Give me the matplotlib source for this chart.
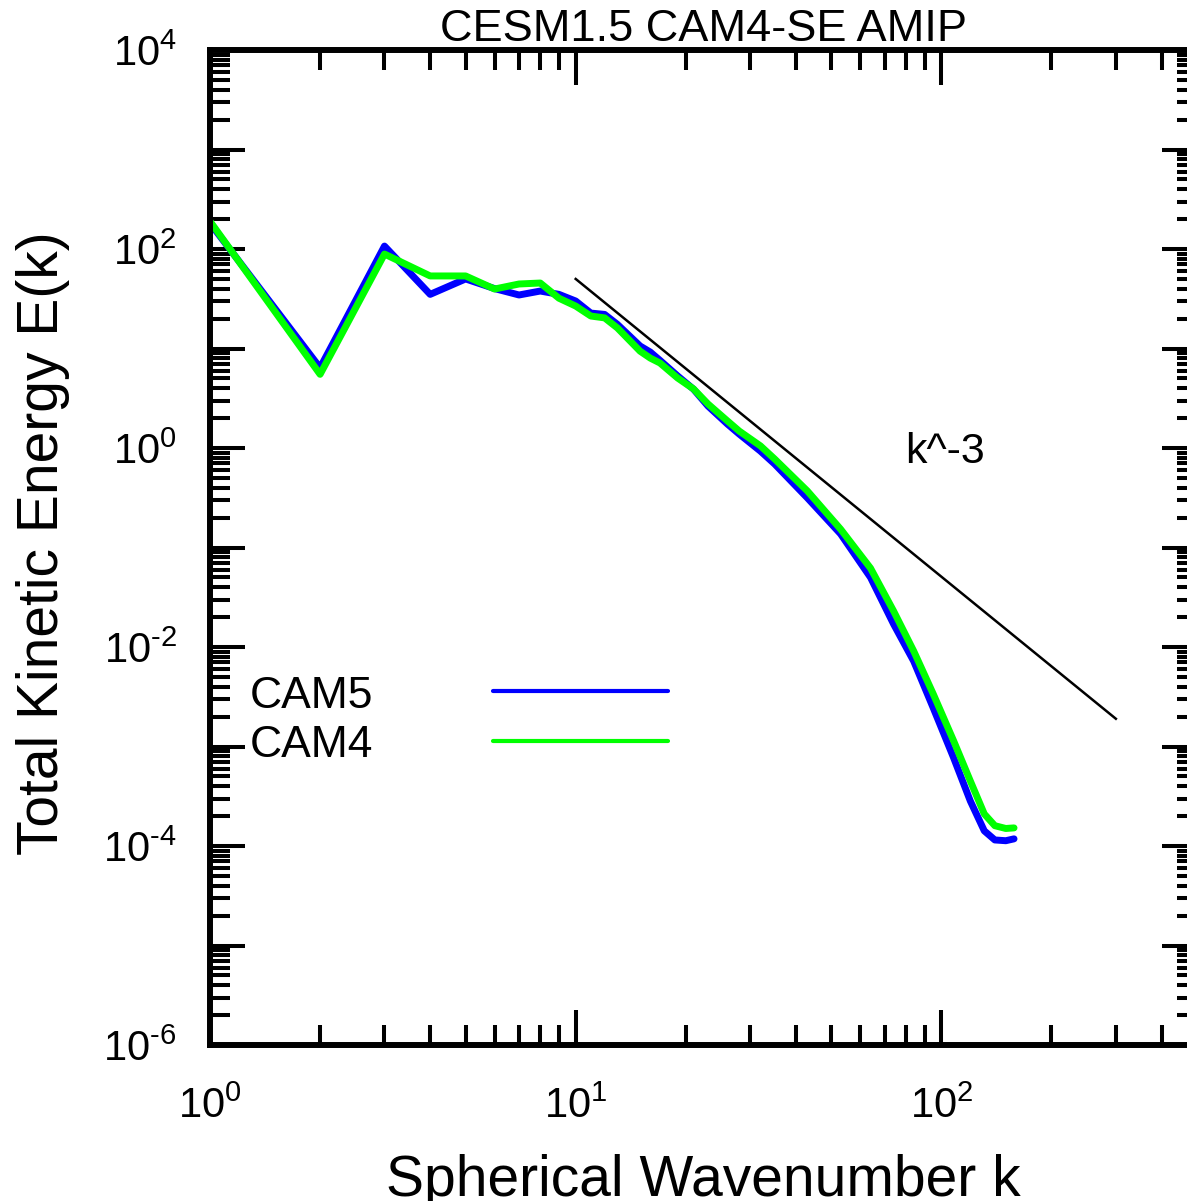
import matplotlib
matplotlib.use('Agg')
import matplotlib.pyplot as plt
import numpy as np
from matplotlib.ticker import FixedLocator, LogLocator, NullFormatter, FuncFormatter

plt.rcParams['font.family'] = ['Liberation Sans', 'DejaVu Sans']
plt.rcParams['mathtext.fontset'] = 'custom'
plt.rcParams['mathtext.rm'] = 'Liberation Sans'

# spherical wavenumber and kinetic energy
k = [1, 2, 3, 4, 5, 6, 7, 8, 9, 10, 11, 12, 13, 15, 16, 17, 19, 21, 23, 26,
     28, 32, 35, 43, 53, 64, 74, 84, 95, 108, 120, 131, 140, 150, 158]
cam5 = [182, 6.4, 107, 35, 50, 40, 34.5, 37.8, 35, 30, 22.7, 22, 17.5, 10.6,
        9.2, 7.6, 5.3, 3.9, 2.64, 1.74, 1.38, 0.93, 0.69, 0.315, 0.137, 0.05,
        0.017, 0.0072, 0.00244, 0.00077, 2.83e-4, 1.42e-4, 1.15e-4,
        1.13e-4, 1.18e-4]
cam4 = [190, 5.5, 89, 53.6, 53.6, 39.6, 44.5, 45.5, 32, 26.7, 21.2, 20.3, 16.1,
        9.4, 8.0, 7.15, 5.05, 3.92, 2.77, 1.87, 1.48, 1.05, 0.775, 0.37, 0.153,
        0.062, 0.023, 0.0091, 0.00337, 0.00114, 4.5e-4, 2.1e-4, 1.6e-4,
        1.5e-4, 1.52e-4]

# k^-3 reference line end points
ref_k = [10, 300]
ref_e = [50, 1.9e-3]

series = [('CAM5', cam5, '#0000ff'), ('CAM4', cam4, '#00ff00')]

fig = plt.figure(figsize=(11.87, 12.01), dpi=100)
ax = fig.add_axes([210 / 1187, 1 - 1045 / 1201, 987 / 1187, 995 / 1201])

for name, vals, col in series:
    ax.plot(k, vals, color=col, lw=5, solid_capstyle='round',
            solid_joinstyle='round')
ax.plot(ref_k, ref_e, color='black', lw=1.8)

ax.set_xscale('log')
ax.set_yscale('log')
ax.set_xlim(1, 500)
ax.set_ylim(1e-6, 1e4)


def pow_label(e):
    # hyphen (U+2010) instead of the long minus sign, like the original
    return '$\\mathregular{10^{%s}}$' % str(e).replace('-', '\u2010')


ax.xaxis.set_major_locator(FixedLocator([1, 10, 100]))
ax.xaxis.set_minor_locator(LogLocator(base=10, subs=np.arange(2, 10)))
ax.xaxis.set_major_formatter(FuncFormatter(
    lambda v, p: pow_label(int(round(np.log10(v))))))
ax.xaxis.set_minor_formatter(NullFormatter())

ax.yaxis.set_major_locator(FixedLocator([10.0 ** e for e in range(-6, 5)]))
ax.yaxis.set_minor_locator(LogLocator(base=10, subs=np.arange(2, 10), numticks=20))


def ylab(v, p):
    e = int(round(np.log10(v)))
    return pow_label(e) if e % 2 == 0 else ''


ax.yaxis.set_major_formatter(FuncFormatter(ylab))
ax.yaxis.set_minor_formatter(NullFormatter())

for s in ax.spines.values():
    s.set_linewidth(4.3)
ax.tick_params(which='both', direction='in', top=True, right=True, width=2.9,
               labelsize=30)
ax.tick_params(which='major', length=25)
ax.tick_params(which='minor', length=14.4)
ax.tick_params(axis='y', which='major', pad=24)
ax.tick_params(axis='x', which='major', pad=30)

ax.set_title('CESM1.5 CAM4-SE AMIP', fontsize=32.5, pad=5.8)
ax.set_xlabel('Spherical Wavenumber k', fontsize=41)
ax.xaxis.set_label_coords(0.5, -0.1518)
ax.xaxis.label.set_va('baseline')
ax.set_ylabel('Total Kinetic Energy E(k)', fontsize=41)
ax.yaxis.set_label_coords(-0.154, 0.504)
ax.yaxis.label.set_va('baseline')

# hand-drawn legend like the original
leg_y = [0.3387, 0.2894]
for (name, vals, col), yy in zip(series, leg_y):
    ax.text(0.0405, yy, name, transform=ax.transAxes, fontsize=32,
            va='baseline', ha='left')
    ax.plot([0.2867, 0.464], [yy + 0.0166, yy + 0.0166], transform=ax.transAxes,
            color=col, lw=3, solid_capstyle='round', clip_on=False)

ax.text(0.704, 0.585, 'k^-3', transform=ax.transAxes, fontsize=31,
        va='baseline', ha='left')

fig.savefig('out.png', dpi=100)
